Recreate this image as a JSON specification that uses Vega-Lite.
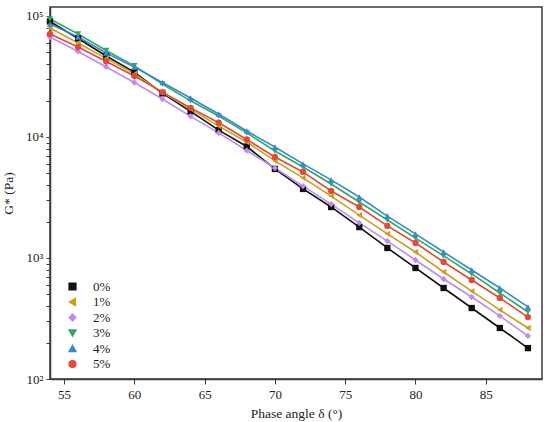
{
  "$schema": "https://vega.github.io/schema/vega-lite/v6.json",
  "width": 492,
  "height": 372,
  "autosize": {"type": "none"},
  "padding": {"left": 50, "top": 7, "right": 8, "bottom": 43},
  "background": "white",
  "config": {
    "view": {"stroke": "#3a3a3a", "strokeWidth": 1.5},
    "font": "Liberation Serif",
    "axis": {"grid": false, "domainColor": "#3a3a3a", "domainWidth": 1.5, "tickColor": "#3a3a3a", "tickWidth": 1, "labelFont": "Liberation Serif", "titleFont": "Liberation Serif", "labelColor": "#222", "titleColor": "#222", "labelFontSize": 13, "titleFontSize": 13.5, "titleFontWeight": "normal"},
    "legend": {"labelFont": "Liberation Serif", "labelFontSize": 13, "labelColor": "#222"}
  },
  "data": {
    "values": [
      {"s":"0%","x":54,"g":90100},{"s":"0%","x":56,"g":65200},{"s":"0%","x":58,"g":46700},{"s":"0%","x":60,"g":34400},{"s":"0%","x":62,"g":22900},{"s":"0%","x":64,"g":16300},{"s":"0%","x":66,"g":11400},{"s":"0%","x":68,"g":8340},{"s":"0%","x":70,"g":5440},{"s":"0%","x":72,"g":3720},{"s":"0%","x":74,"g":2640},{"s":"0%","x":76,"g":1800},{"s":"0%","x":78,"g":1210},{"s":"0%","x":80,"g":827},{"s":"0%","x":82,"g":565},{"s":"0%","x":84,"g":386},{"s":"0%","x":86,"g":264},{"s":"0%","x":88,"g":180},
      {"s":"1%","x":54,"g":79600},{"s":"1%","x":56,"g":59800},{"s":"1%","x":58,"g":44600},{"s":"1%","x":60,"g":33200},{"s":"1%","x":62,"g":23300},{"s":"1%","x":64,"g":17000},{"s":"1%","x":66,"g":12300},{"s":"1%","x":68,"g":9090},{"s":"1%","x":70,"g":6340},{"s":"1%","x":72,"g":4590},{"s":"1%","x":74,"g":3250},{"s":"1%","x":76,"g":2260},{"s":"1%","x":78,"g":1580},{"s":"1%","x":80,"g":1120},{"s":"1%","x":82,"g":766},{"s":"1%","x":84,"g":533},{"s":"1%","x":86,"g":372},{"s":"1%","x":88,"g":264},
      {"s":"2%","x":54,"g":67000},{"s":"2%","x":56,"g":50900},{"s":"2%","x":58,"g":37900},{"s":"2%","x":60,"g":28200},{"s":"2%","x":62,"g":20600},{"s":"2%","x":64,"g":14800},{"s":"2%","x":66,"g":10800},{"s":"2%","x":68,"g":7730},{"s":"2%","x":70,"g":5540},{"s":"2%","x":72,"g":3930},{"s":"2%","x":74,"g":2790},{"s":"2%","x":76,"g":1950},{"s":"2%","x":78,"g":1380},{"s":"2%","x":80,"g":962},{"s":"2%","x":82,"g":670},{"s":"2%","x":84,"g":476},{"s":"2%","x":86,"g":332},{"s":"2%","x":88,"g":227},
      {"s":"3%","x":54,"g":94400},{"s":"3%","x":56,"g":71000},{"s":"3%","x":58,"g":51900},{"s":"3%","x":60,"g":38700},{"s":"3%","x":62,"g":27400},{"s":"3%","x":64,"g":19900},{"s":"3%","x":66,"g":14900},{"s":"3%","x":68,"g":10800},{"s":"3%","x":70,"g":7660},{"s":"3%","x":72,"g":5650},{"s":"3%","x":74,"g":4090},{"s":"3%","x":76,"g":2900},{"s":"3%","x":78,"g":2060},{"s":"3%","x":80,"g":1460},{"s":"3%","x":82,"g":1040},{"s":"3%","x":84,"g":738},{"s":"3%","x":86,"g":514},{"s":"3%","x":88,"g":358},
      {"s":"4%","x":54,"g":85900},{"s":"4%","x":56,"g":67000},{"s":"4%","x":58,"g":49500},{"s":"4%","x":60,"g":37900},{"s":"4%","x":62,"g":28200},{"s":"4%","x":64,"g":21000},{"s":"4%","x":66,"g":15500},{"s":"4%","x":68,"g":11200},{"s":"4%","x":70,"g":8260},{"s":"4%","x":72,"g":5990},{"s":"4%","x":74,"g":4420},{"s":"4%","x":76,"g":3190},{"s":"4%","x":78,"g":2220},{"s":"4%","x":80,"g":1580},{"s":"4%","x":82,"g":1120},{"s":"4%","x":84,"g":796},{"s":"4%","x":86,"g":565},{"s":"4%","x":88,"g":394},
      {"s":"5%","x":54,"g":71000},{"s":"5%","x":56,"g":55400},{"s":"5%","x":58,"g":42100},{"s":"5%","x":60,"g":31900},{"s":"5%","x":62,"g":23500},{"s":"5%","x":64,"g":17400},{"s":"5%","x":66,"g":13100},{"s":"5%","x":68,"g":9530},{"s":"5%","x":70,"g":6830},{"s":"5%","x":72,"g":5140},{"s":"5%","x":74,"g":3580},{"s":"5%","x":76,"g":2640},{"s":"5%","x":78,"g":1840},{"s":"5%","x":80,"g":1330},{"s":"5%","x":82,"g":927},{"s":"5%","x":84,"g":658},{"s":"5%","x":86,"g":467},{"s":"5%","x":88,"g":325}
    ]
  },
  "mark": {"type": "line", "strokeWidth": 1.6, "point": {"filled": true, "size": 40, "opacity": 1}},
  "encoding": {
    "x": {"field": "x", "type": "quantitative", "scale": {"domain": [54, 89], "nice": false, "zero": false},
      "axis": {"values": [55, 60, 65, 70, 75, 80, 85], "tickSize": 5, "labelPadding": 4, "title": "Phase angle δ (°)", "titlePadding": 5}},
    "y": {"field": "g", "type": "quantitative", "scale": {"type": "log", "domain": [100, 118600], "nice": false},
      "axis": {"values": [100,200,300,400,500,600,700,800,900,1000,2000,3000,4000,5000,6000,7000,8000,9000,10000,20000,30000,40000,50000,60000,70000,80000,90000,100000],
        "labelExpr": "datum.value==100?'10²':datum.value==1000?'10³':datum.value==10000?'10⁴':datum.value==100000?'10⁵':''",
        "tickSize": 4, "labelPadding": 3, "title": "G* (Pa)", "titlePadding": 10}},
    "color": {"field": "s", "type": "nominal", "title": null,
      "scale": {"domain": ["0%","1%","2%","3%","4%","5%"], "range": ["#111111","#c9a01c","#bb8cf2","#2fa866","#3b88d4","#e4483a"]},
      "legend": {"orient": "none", "legendX": 16, "legendY": 273, "rowPadding": 1.5, "symbolSize": 45, "labelOffset": 14}},
    "shape": {"field": "s", "type": "nominal",
      "scale": {"domain": ["0%","1%","2%","3%","4%","5%"], "range": ["square","triangle-left","diamond","triangle-down","triangle-up","circle"]}}
  }
}
